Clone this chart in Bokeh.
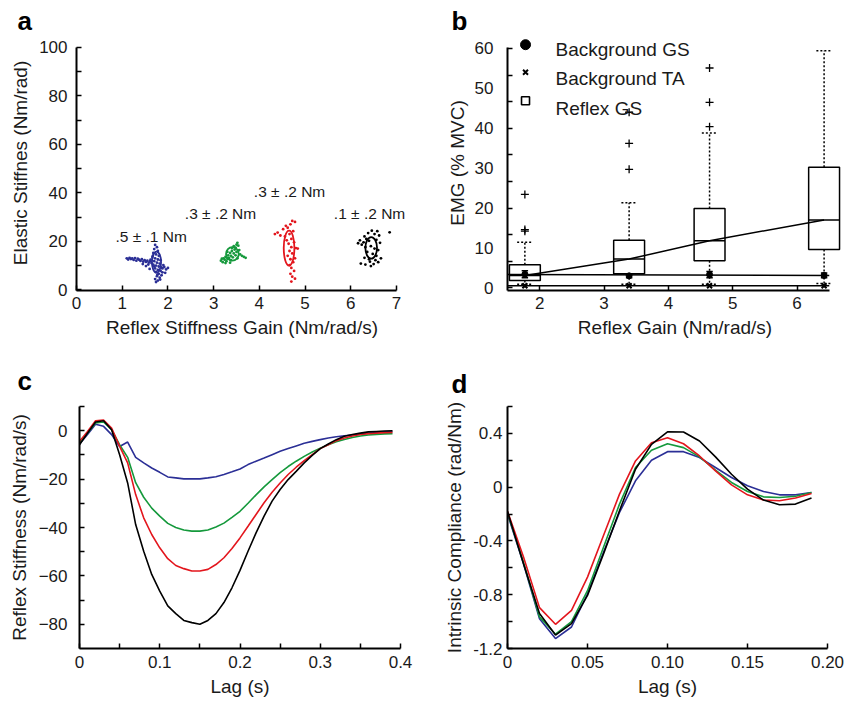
import numpy as np
from bokeh.plotting import figure
from bokeh.layouts import column, row
from bokeh.models import Range1d, FixedTicker, Label, ColumnDataSource
from bokeh.embed import file_html
from bokeh.resources import INLINE

FONT = "Liberation Sans"
TXT = "#1a1a1a"
BLUE = "#2b2f96"
GREEN = "#15993c"
RED = "#e3161d"
BLACK = "#000000"

# ---------------- Panel a data ----------------
blue_pts = [(1.10, 13.0), (1.13, 12.5), (1.16, 13.2), (1.19, 12.7), (1.22, 12.9), (1.25, 12.3), (1.28, 13.1),
            (1.31, 12.0), (1.34, 12.8), (1.37, 12.4), (1.40, 11.9), (1.43, 12.6), (1.46, 11.6), (1.49, 12.2),
            (1.52, 11.5), (1.55, 12.0), (1.58, 11.2), (1.61, 11.8), (1.45, 10.6), (1.52, 9.8), (1.57, 10.4),
            (1.60, 8.6),
            (1.72, 18.5), (1.76, 17.6), (1.70, 16.8), (1.78, 16.0), (1.68, 15.2), (1.74, 14.6), (1.80, 14.0),
            (1.66, 13.5), (1.72, 13.0), (1.78, 12.5), (1.84, 12.2), (1.70, 11.8), (1.76, 11.2), (1.82, 10.8),
            (1.68, 10.4), (1.74, 10.0), (1.80, 9.6), (1.86, 9.2), (1.92, 9.4), (2.00, 9.0), (1.96, 8.4),
            (1.72, 8.8), (1.78, 8.2), (1.84, 7.8), (1.88, 7.2), (1.74, 7.4), (1.80, 6.6), (1.86, 6.0),
            (1.76, 5.6), (1.82, 5.0), (1.72, 4.4), (1.78, 3.8), (1.74, 3.2), (1.88, 8.8), (1.64, 11.0),
            (1.62, 12.4), (1.90, 10.2), (1.94, 7.0), (1.70, 9.6), (1.83, 4.2), (1.77, 6.2), (1.67, 14.0)]
green_pts = [(3.16, 12.0), (3.20, 11.4), (3.24, 12.4), (3.22, 13.0), (3.28, 11.8), (3.30, 12.8), (3.26, 13.6),
             (3.32, 14.2), (3.34, 13.2), (3.36, 15.2), (3.38, 14.0), (3.40, 16.0), (3.42, 13.4), (3.44, 15.0),
             (3.46, 16.6), (3.48, 17.4), (3.44, 18.0), (3.50, 18.6), (3.52, 19.4), (3.54, 18.2), (3.48, 14.2),
             (3.50, 15.6), (3.56, 16.4), (3.58, 14.6), (3.62, 14.0), (3.66, 13.6), (3.70, 13.2), (3.38, 12.2),
             (3.30, 15.6), (3.40, 17.2), (3.52, 13.0), (3.18, 12.8), (3.36, 11.2), (3.26, 11.0)]
red_pts = [(4.72, 28.4), (4.78, 28.0), (4.68, 27.0), (4.58, 26.4), (4.62, 25.6), (4.52, 25.0), (4.40, 23.6),
           (4.34, 23.0), (4.46, 22.4), (4.56, 22.0), (4.66, 23.0), (4.70, 21.0), (4.76, 19.6), (4.64, 19.0),
           (4.70, 17.6), (4.80, 17.2), (4.84, 17.0), (4.66, 16.0), (4.72, 15.0), (4.62, 14.0), (4.68, 12.6),
           (4.74, 11.4), (4.66, 10.2), (4.70, 9.0), (4.76, 7.8), (4.68, 6.6), (4.72, 5.4), (4.78, 4.6),
           (4.70, 3.4), (4.74, 24.2), (4.60, 20.4), (4.78, 13.0)]
black_pts = [(6.30, 22.0), (6.38, 23.4), (6.46, 24.4), (6.52, 23.0), (6.58, 24.2), (6.62, 22.4), (6.85, 23.7),
             (6.20, 20.4), (6.28, 19.6), (6.34, 21.0), (6.40, 20.2), (6.56, 20.6), (6.64, 19.4), (6.24, 18.6),
             (6.32, 17.6), (6.44, 18.0), (6.52, 17.0), (6.60, 16.4), (6.36, 15.6), (6.48, 14.8), (6.56, 14.0),
             (6.30, 13.2), (6.40, 12.6), (6.54, 12.2), (6.60, 11.4), (6.22, 10.8), (6.32, 10.4), (6.44, 9.8),
             (6.50, 10.6), (6.42, 11.6), (6.66, 13.0), (6.16, 19.2)]
ell_x = [1.75, 3.41, 4.65, 6.447]
ell_y = [11.4, 14.8, 17.2, 17.3]
ell_w = [0.20, 0.277, 0.233, 0.255]
ell_h = [8.7, 5.6, 14.4, 8.9]
ell_col = [BLUE, GREEN, RED, BLACK]
torque_labels = [".5 \u00b1 .1 Nm", ".3 \u00b1 .2 Nm", ".3 \u00b1 .2 Nm", ".1 \u00b1 .2 Nm"]
torque_x = [0.853, 2.37, 3.88, 5.63]
torque_y = [22.1, 31.6, 40.7, 31.6]

# ---------------- Panel b data ----------------
box_x = [1.77, 3.39, 4.64, 6.42]
q1 = [1.8, 3.5, 6.8, 9.6]
med = [3.1, 7.2, 11.8, 17.0]
q3 = [5.8, 11.9, 19.9, 30.2]
whisk_lo = [0.9, 0.9, 0.9, 1.1]
whisk_hi = [11.4, 21.3, 38.8, 59.4]
outliers = [[23.4, 14.6, 14.2], [44.0, 36.2, 29.7], [55.1, 46.5, 40.4], []]
gs_mean = [3.4, 3.0, 3.3, 3.1]
gs_err = [0.9, 0.5, 0.8, 0.6]
ta_mean = [0.5, 0.5, 0.5, 0.5]
ta_err = [0.4, 0.3, 0.3, 0.4]
legend_labels = ["Background GS", "Background TA", "Reflex GS"]

# ---------------- Panel c data ----------------
lag_c = [0.00, 0.01, 0.02, 0.03, 0.04, 0.05, 0.06, 0.07, 0.08, 0.09,
         0.10, 0.11, 0.12, 0.13, 0.14, 0.15, 0.16, 0.17, 0.18, 0.19,
         0.20, 0.21, 0.22, 0.23, 0.24, 0.25, 0.26, 0.27, 0.28, 0.29,
         0.30, 0.31, 0.32, 0.33, 0.34, 0.35, 0.36, 0.37, 0.38, 0.39]
blue_c = [-5.5, -1.6, 2.7, 1.8, -1.6, -6.5, -4.7, -11.0, -13.3, -15.4, -17.2, -19.1, -19.5, -19.9, -19.9, -19.9,
          -19.5, -19.0, -18.1, -17.0, -15.8, -14.0, -12.6, -11.3, -9.9, -8.5, -7.4, -6.3, -5.2, -4.4, -3.7,
          -3.0, -2.5, -2.1, -1.8, -1.4, -1.1, -0.8, -0.5, -0.3]
green_c = [-5.1, -1.0, 3.2, 3.6, 0.4, -5.8, -11.0, -21.5, -27.5, -32.0, -35.3, -38.3, -40.0, -41.0, -41.5, -41.5,
           -41.0, -39.8, -38.2, -35.8, -33.3, -30.0, -26.5, -23.2, -20.2, -17.3, -14.8, -12.6, -10.6, -8.8,
           -7.2, -5.8, -4.6, -3.6, -2.8, -2.2, -1.8, -1.5, -1.3, -1.2]
red_c = [-4.4, -0.3, 4.1, 4.4, 1.1, -6.5, -13.3, -26.4, -36.0, -42.9, -48.4, -52.9, -55.7, -57.0, -58.0, -58.0,
         -57.3, -55.3, -52.5, -48.7, -44.3, -39.5, -34.6, -29.8, -25.4, -21.6, -18.1, -15.1, -12.4, -9.9,
         -7.4, -5.8, -4.1, -3.0, -2.2, -1.6, -1.2, -1.0, -0.8, -0.7]
black_c = [-5.8, -1.0, 3.6, 4.1, 0.4, -9.9, -21.6, -38.8, -49.8, -59.4, -66.3, -72.4, -75.6, -78.4, -79.3, -80.0,
           -78.4, -75.6, -71.0, -64.9, -57.7, -49.8, -42.2, -35.3, -29.1, -24.3, -20.2, -16.8, -13.3, -10.2,
           -7.4, -5.5, -3.7, -2.3, -1.6, -1.0, -0.5, -0.3, -0.1, 0.0]

# ---------------- Panel d data ----------------
lag_d = [0.00, 0.01, 0.02, 0.03, 0.04, 0.05, 0.06, 0.07, 0.08, 0.09,
         0.10, 0.11, 0.12, 0.13, 0.14, 0.15, 0.16, 0.17, 0.18, 0.19]
blue_d = [-0.20, -0.57, -0.978, -1.126, -1.04, -0.793, -0.484, -0.188, 0.047, 0.20,
          0.264, 0.264, 0.22, 0.146, 0.072, 0.01, -0.032, -0.057, -0.057, -0.04]
green_d = [-0.19, -0.56, -0.965, -1.094, -1.00, -0.77, -0.447, -0.126, 0.146, 0.274,
           0.323, 0.294, 0.225, 0.126, 0.035, -0.032, -0.072, -0.077, -0.067, -0.04]
red_d = [-0.18, -0.52, -0.896, -1.02, -0.916, -0.669, -0.36, -0.052, 0.195, 0.331,
         0.368, 0.323, 0.232, 0.121, 0.017, -0.057, -0.096, -0.101, -0.081, -0.047]
black_d = [-0.18, -0.57, -0.94, -1.10, -1.015, -0.805, -0.496, -0.175, 0.133, 0.318,
           0.412, 0.41, 0.343, 0.225, 0.096, -0.015, -0.096, -0.131, -0.126, -0.081]


def make_fig(w, h, xr, yr, left, right, top, bottom):
    p = figure(width=w, height=h, x_range=Range1d(*xr), y_range=Range1d(*yr),
               output_backend="svg", toolbar_location=None,
               min_border_left=left, min_border_right=right,
               min_border_top=top, min_border_bottom=bottom)
    p.outline_line_color = None
    p.grid.visible = False
    p.background_fill_color = "white"
    p.border_fill_color = "white"
    return p


def style_axis(ax, ticks, minor, label, lstand, astand, overrides=None, major_in=5):
    ax.ticker = FixedTicker(ticks=ticks, minor_ticks=minor)
    ax.axis_label = label
    ax.axis_line_width = 2
    ax.axis_line_color = "black"
    ax.major_tick_in = major_in
    ax.major_tick_out = 0
    ax.minor_tick_in = 5
    ax.minor_tick_out = 0
    ax.major_tick_line_width = 1.5
    ax.minor_tick_line_width = 1.5
    ax.major_tick_line_color = "black"
    ax.minor_tick_line_color = "black"
    ax.major_label_standoff = lstand
    ax.axis_label_standoff = astand
    ax.major_label_text_font = FONT
    ax.major_label_text_font_size = "17px"
    ax.major_label_text_color = TXT
    ax.axis_label_text_font = FONT
    ax.axis_label_text_font_size = "19px"
    ax.axis_label_text_font_style = "normal"
    ax.axis_label_text_color = TXT
    if overrides:
        ax.major_label_overrides = overrides


def letter_title(p, text, offset, standoff, valign="bottom"):
    p.title.text = text
    p.title.text_font = FONT
    p.title.text_font_size = "26px"
    p.title.text_font_style = "bold"
    p.title.text_color = "black"
    p.title.align = "left"
    p.title.vertical_align = valign
    p.title.offset = offset
    p.title.standoff = standoff


# ================= Panel a =================
pa = make_fig(422, 342, (0, 7.241), (-0.3, 104.95), 76, 15, 35, 52)
style_axis(pa.xaxis[0], [0, 1, 2, 3, 4, 5, 6, 7], [], "Reflex Stiffness Gain (Nm/rad/s)", 6, 5)
style_axis(pa.yaxis[0], [0, 20, 40, 60, 80, 100], [10, 30, 50, 70, 90], "Elastic Stiffnes (Nm/rad)", 9, 5)
pa.xaxis[0].bounds = (0, 7)
pa.yaxis[0].bounds = (-0.3, 100)
for pts, col in [(blue_pts, BLUE), (green_pts, GREEN), (red_pts, RED), (black_pts, BLACK)]:
    xs = [q[0] for q in pts]
    ys = [q[1] for q in pts]
    pa.scatter(xs, ys, size=2.8, color=col, line_color=None)
pa.ellipse(x=ell_x, y=ell_y, width=ell_w, height=ell_h, fill_color=None,
           line_color=ell_col, line_width=1.8)
for t, tx, ty in zip(torque_labels, torque_x, torque_y):
    pa.add_layout(Label(x=tx, y=ty, text=t, text_font=FONT, text_font_size="15.5px",
                        text_color=TXT, text_align="left", text_baseline="alphabetic"))
letter_title(pa, "a", -59, 0)

# ================= Panel b =================
pb = make_fig(422, 342, (1.5, 6.706), (-0.68, 63.245), 85, 2, 35, 52)
style_axis(pb.xaxis[0], [2, 3, 4, 5, 6], [], "Reflex Gain (Nm/rad/s)", 6, 5)
style_axis(pb.yaxis[0], [0, 10, 20, 30, 40, 50, 60],
           [0, 6.667, 13.333, 20, 26.667, 33.333, 40, 46.667, 53.333, 60],
           "EMG (% MVC)", 14, 4, major_in=0)
pb.xaxis[0].bounds = (1.5, 6.5)
pb.yaxis[0].bounds = (-0.68, 60.3)

HW = 0.24   # box half-width
CW = 0.12   # whisker cap half-width
bx = np.array(box_x)
pb.quad(left=bx - HW, right=bx + HW, bottom=q1, top=q3, fill_color=None,
        line_color="black", line_width=1.5)
pb.segment(x0=bx - HW, x1=bx + HW, y0=med, y1=med, line_color="black", line_width=1.5)
pb.segment(x0=bx, x1=bx, y0=q3, y1=whisk_hi, line_color="black", line_width=1.5, line_dash="2 2")
pb.segment(x0=bx, x1=bx, y0=q1, y1=whisk_lo, line_color="black", line_width=1.5, line_dash="2 2")
pb.segment(x0=bx - CW, x1=bx + CW, y0=whisk_hi, y1=whisk_hi, line_color="black", line_width=1.5, line_dash="2 2")
pb.segment(x0=bx - CW, x1=bx + CW, y0=whisk_lo, y1=whisk_lo, line_color="black", line_width=1.5, line_dash="2 2")
ox = [x for x, outs in zip(box_x, outliers) for _ in outs]
oy = [v for outs in outliers for v in outs]
pb.scatter(ox, oy, marker="cross", size=8, line_color="black", line_width=1.3)
pb.line(box_x, med, line_color="black", line_width=1.5)

xb = np.array([1.5, 6.5])
gs_fit = np.polyfit(box_x, gs_mean, 1)
ta_fit = np.polyfit(box_x, ta_mean, 1)
pb.line(xb, np.polyval(gs_fit, xb), line_color="black", line_width=1.5)
pb.line(xb, np.polyval(ta_fit, xb), line_color="black", line_width=1.5)
gm = np.array(gs_mean); ge = np.array(gs_err)
tm = np.array(ta_mean); te = np.array(ta_err)
pb.segment(x0=bx, x1=bx, y0=gm - ge, y1=gm + ge, line_color="black", line_width=1.5)
pb.segment(x0=bx - 0.05, x1=bx + 0.05, y0=gm - ge, y1=gm - ge, line_color="black", line_width=1.5)
pb.segment(x0=bx - 0.05, x1=bx + 0.05, y0=gm + ge, y1=gm + ge, line_color="black", line_width=1.5)
pb.segment(x0=bx, x1=bx, y0=tm - te, y1=tm + te, line_color="black", line_width=1.5)
pb.scatter(box_x, gs_mean, marker="circle", size=6, fill_color="black", line_color="black")
pb.scatter(box_x, ta_mean, marker="x", size=7, line_color="black", line_width=2)

leg_src = ColumnDataSource(dict(x=[1.78, 1.78, 1.78], y=[60.94, 54.02, 46.90],
                                marker=["circle", "x", "square"], size=[10, 7, 8],
                                fill=["black", "white", "white"], lw=[1, 2, 1.6]))
pb.scatter(x="x", y="y", marker="marker", size="size", fill_color="fill",
           line_color="black", line_width="lw", source=leg_src)
for t, ty in zip(legend_labels, [59.69, 52.59, 45.07]):
    pb.add_layout(Label(x=2.246, y=ty, text=t, text_font=FONT, text_font_size="19px",
                        text_color=TXT, text_align="left", text_baseline="alphabetic"))
letter_title(pb, "b", -56, 0)

# ================= Panel c =================
pc = make_fig(422, 361, (0, 0.4), (-90, 10), 79, 22, 64, 55)
style_axis(pc.xaxis[0], [0, 0.1, 0.2, 0.3, 0.4], [0.05, 0.15, 0.25, 0.35], "Lag (s)", 7, 5,
           overrides={0: "0", 0.1: "0.1", 0.2: "0.2", 0.3: "0.3", 0.4: "0.4"})
style_axis(pc.yaxis[0], [-80, -60, -40, -20, 0], [-70, -50, -30, -10, 10],
           "Reflex Stiffness (Nm/rad/s)", 12, 6)
for ys, col in [(blue_c, BLUE), (green_c, GREEN), (red_c, RED), (black_c, BLACK)]:
    pc.line(lag_c, ys, line_color=col, line_width=1.6)
letter_title(pc, "c", -62, 22)

# ================= Panel d =================
pd_ = make_fig(422, 361, (0, 0.2), (-1.2, 0.6), 85, 17, 64, 55)
style_axis(pd_.xaxis[0], [0, 0.05, 0.1, 0.15, 0.2], [], "Lag (s)", 7, 5,
           overrides={0: "0", 0.05: "0.05", 0.1: "0.10", 0.15: "0.15", 0.2: "0.20"})
style_axis(pd_.yaxis[0], [-1.2, -0.8, -0.4, 0, 0.4], [-1.0, -0.6, -0.2, 0.2, 0.6],
           "Intrinsic Compliance (rad/Nm)", 5, 5,
           overrides={-1.2: "-1.2", -0.8: "-0.8", -0.4: "-0.4", 0: "0", 0.4: "0.4"})
for ys, col in [(blue_d, BLUE), (green_d, GREEN), (red_d, RED), (black_d, BLACK)]:
    pd_.line(lag_d, ys, line_color=col, line_width=1.6)
letter_title(pd_, "d", -56, 16)

layout = column(row(pa, pb), row(pc, pd_))
open("out.html", "w").write(file_html(layout, INLINE))
